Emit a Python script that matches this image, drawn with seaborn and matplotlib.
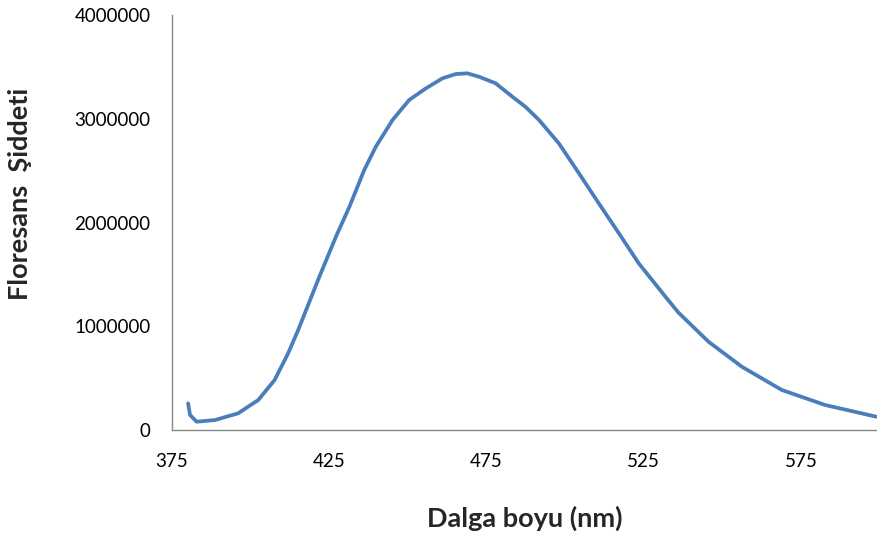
import matplotlib
matplotlib.use("Agg")
import matplotlib.pyplot as plt
import seaborn as sns
import pandas as pd

wavelength = [380.1, 380.7, 382.8, 388.6, 396.0, 402.4, 407.6, 411.9, 415.1, 421.8,
              427.1, 431.4, 436.1, 439.8, 445.1, 450.4, 455.7, 461.0, 465.2, 468.9,
              472.6, 477.9, 483.2, 487.4, 491.7, 498.0, 504.4, 510.7, 517.1, 523.4,
              531.9, 536.0, 545.6, 556.2, 568.9, 582.7, 599.0]
intensity = [257000, 145000, 80000, 96000, 161000, 289000, 482000, 739000, 964000, 1475000,
             1863000, 2152000, 2506000, 2731000, 2988000, 3181000, 3293000, 3390000, 3431000, 3438000,
             3405000, 3342000, 3213000, 3115000, 2988000, 2763000, 2474000, 2185000, 1896000, 1607000,
             1285000, 1133000, 851000, 610000, 386000, 241000, 128000]
x_ticks = [375, 425, 475, 525, 575]
y_ticks = [0, 1000000, 2000000, 3000000, 4000000]

sns.set_style("white")
plt.rcParams['font.family'] = ['Lato', 'DejaVu Sans']

df = pd.DataFrame({"wl": wavelength, "I": intensity})

fig = plt.figure(figsize=(8.78, 5.42), dpi=100)
ax = fig.add_axes([0.196, 0.2066, 0.804, 0.7657])
sns.lineplot(data=df, x="wl", y="I", ax=ax, color="#4A7EBB", linewidth=2.7)

ax.set_xlim(375, 599.5)
ax.set_ylim(0, 4000000)
ax.set_xticks(x_ticks)
ax.set_xticklabels([str(v) for v in x_ticks])
ax.set_yticks(y_ticks)
ax.set_yticklabels([str(v) for v in y_ticks])

for s in ["top", "right"]:
    ax.spines[s].set_visible(False)
for s in ["left", "bottom"]:
    ax.spines[s].set_color("#868686")
    ax.spines[s].set_linewidth(1.0)
ax.tick_params(axis="both", direction="out", length=6.5, width=1.0, color="#868686",
               labelsize=13.5, labelcolor="black")
ax.tick_params(axis="y", pad=9)
ax.tick_params(axis="x", pad=10)

ax.set_xlabel("Dalga boyu (nm)", fontsize=19.5, fontweight="bold", labelpad=26)
ax.set_ylabel("Floresans  Şiddeti", fontsize=19.5, fontweight="bold")
ax.yaxis.set_label_coords(-0.199, 0.569)
ax.grid(False)

fig.savefig("out.png", dpi=100)
